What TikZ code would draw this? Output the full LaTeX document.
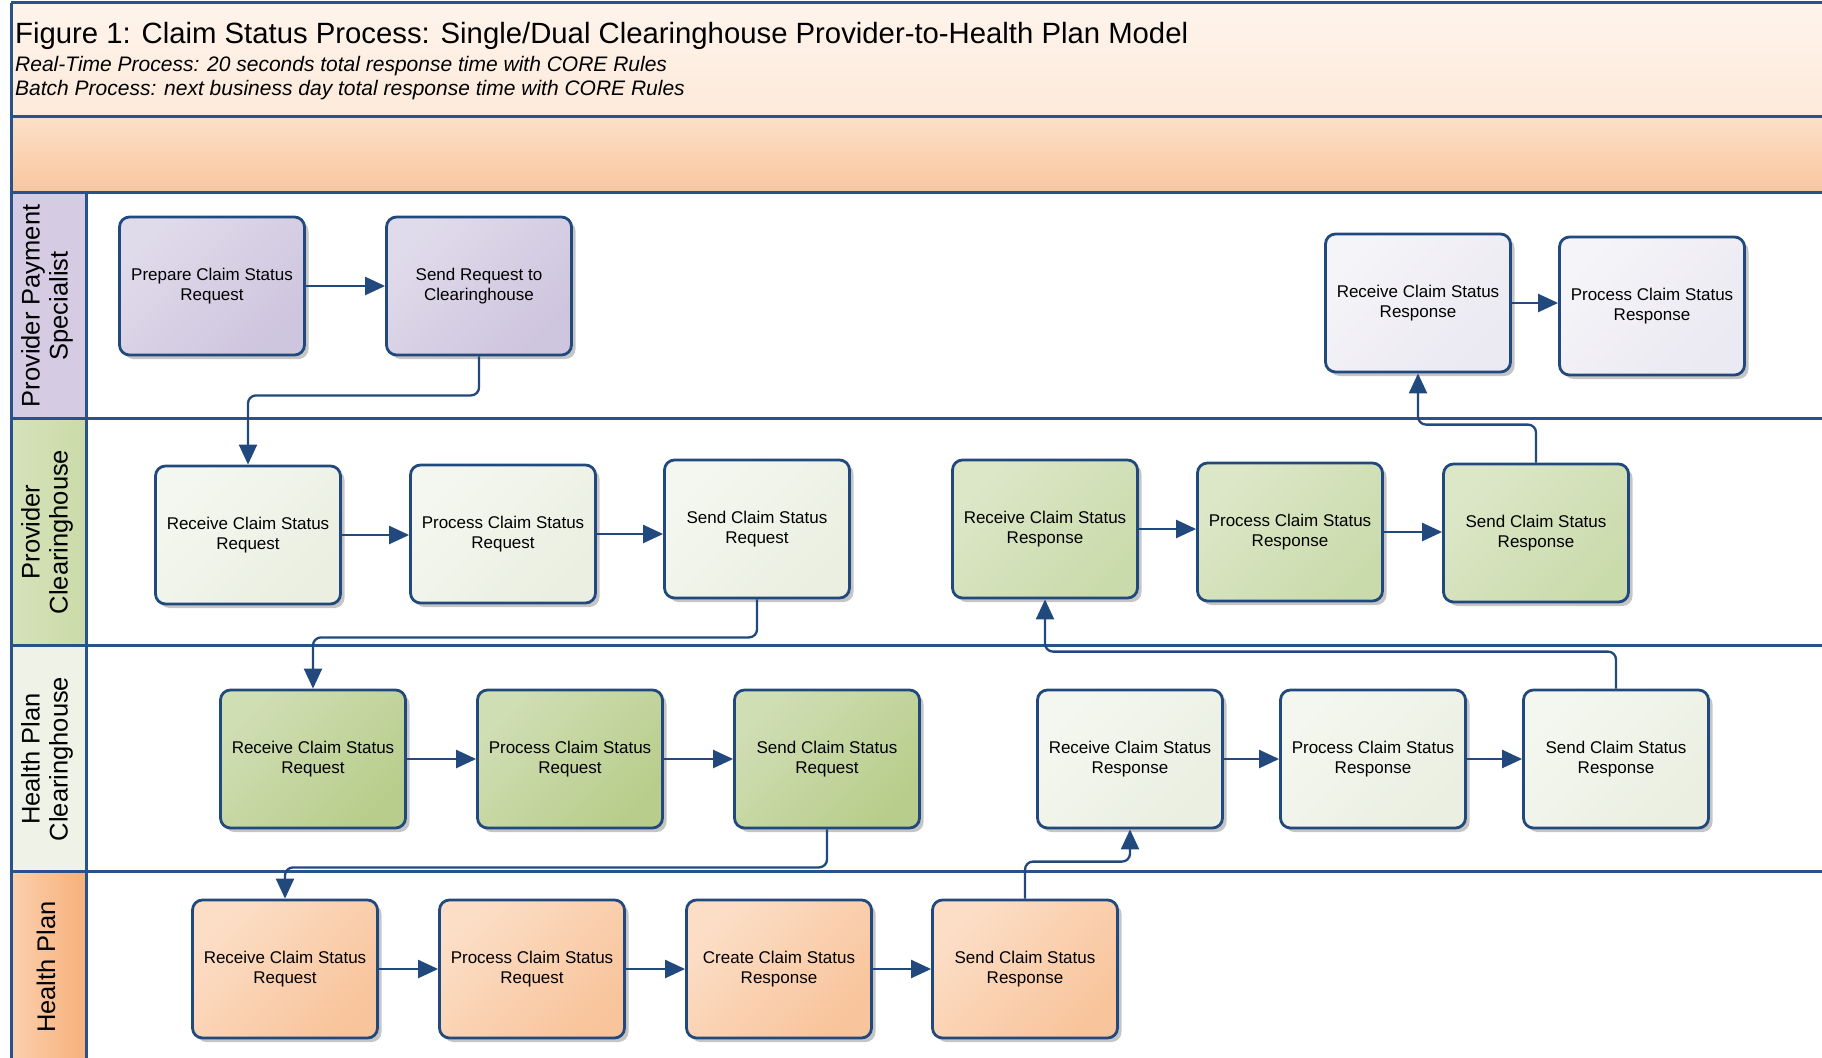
\documentclass[tikz,border=0pt]{standalone}
\usepackage{fontspec}
\setmainfont{Liberation Sans}
\usetikzlibrary{arrows.meta,shadows}
\definecolor{lblue}{HTML}{21497D}
\definecolor{fblue}{HTML}{28538A}
\definecolor{ppsAt}{HTML}{E0DBEB}
\definecolor{ppsAb}{HTML}{CEC5DE}
\definecolor{ppsBt}{HTML}{F5F4F8}
\definecolor{ppsBb}{HTML}{EBE9F1}
\definecolor{pcAt}{HTML}{F4F7EF}
\definecolor{pcAb}{HTML}{EAEFE1}
\definecolor{pcBt}{HTML}{DCE7C8}
\definecolor{pcBb}{HTML}{CADBAB}
\definecolor{hpcAt}{HTML}{D0DEB4}
\definecolor{hpcAb}{HTML}{B8CD8B}
\definecolor{hpAt}{HTML}{FCDEC6}
\definecolor{hpAb}{HTML}{F8C49B}
\definecolor{headT}{HTML}{FEF4EC}
\definecolor{headB}{HTML}{FDEADA}
\definecolor{bandT}{HTML}{FCE0C8}
\definecolor{bandB}{HTML}{F9C69E}
\definecolor{lab1c}{HTML}{D5CCE3}
\definecolor{lab2l}{HTML}{D6E2BA}
\definecolor{lab2r}{HTML}{CBDBA8}
\definecolor{lab3c}{HTML}{EEF2E7}
\definecolor{lab4l}{HTML}{FBD0AE}
\definecolor{lab4r}{HTML}{F7B07A}
\begin{document}
\begin{tikzpicture}[x=1pt,y=-1pt,
  box/.style={rectangle, rounded corners=10pt, draw=lblue, line width=2.8pt,
    minimum width=185pt, minimum height=138pt, align=center, inner sep=2pt,
    font=\fontsize{17}{20}\selectfont,
    drop shadow={shadow xshift=4pt, shadow yshift=-4pt, fill=black!45, opacity=0.5}},
  ppsA/.style={box, top color=ppsAt, bottom color=ppsAb, shading angle=45},
  ppsB/.style={box, top color=ppsBt, bottom color=ppsBb, shading angle=45},
  pcA/.style={box, top color=pcAt, bottom color=pcAb, shading angle=45},
  pcB/.style={box, top color=pcBt, bottom color=pcBb, shading angle=45},
  hpcA/.style={box, top color=hpcAt, bottom color=hpcAb, shading angle=45},
  hpA/.style={box, top color=hpAt, bottom color=hpAb, shading angle=45},
  conn/.style={draw=lblue, line width=2.3pt, rounded corners=8pt, -{Triangle[length=20pt,width=18pt]}},
  frame/.style={draw=fblue, line width=3pt},
  lanelabel/.style={rotate=90, align=center, font=\fontsize{25.5}{28}\selectfont, inner sep=0pt},
]
\useasboundingbox (0,0) rectangle (1822,1057);
% header
\shade[top color=headT, bottom color=headB] (11,3) rectangle (1840,116);
\shade[top color=bandT, bottom color=bandB] (11,116) rectangle (1840,192);
% lane label fills
\fill[lab1c] (11,192) rectangle (86,418);
\shade[left color=lab2l, right color=lab2r] (11,418) rectangle (86,645);
\fill[lab3c] (11,645) rectangle (86,871);
\shade[left color=lab4l, right color=lab4r] (11,871) rectangle (86,1070);
% frame lines
\draw[frame] (11,3) -- (1840,3);
\draw[frame] (11,116) -- (1840,116);
\draw[frame] (11,192) -- (1840,192);
\draw[frame] (11,418) -- (1840,418);
\draw[frame] (11,645) -- (1840,645);
\draw[frame] (11,871) -- (1840,871);
\draw[frame] (11,3) -- (11,1070);
\draw[frame] (86,192) -- (86,1070);
% titles
\node[anchor=base west, inner sep=0pt, font=\fontsize{29.3}{32}\selectfont] (title) at (15,44)
  {Figure 1: Claim Status Process: Single/Dual Clearinghouse Provider-to-Health Plan Model};
\node[anchor=base west, inner sep=0pt, font=\fontsize{21}{24}\selectfont\itshape] (sub1) at (15,71)
  {Real-Time Process: 20 seconds total response time with CORE Rules};
\node[anchor=base west, inner sep=0pt, font=\fontsize{21}{24}\selectfont\itshape] (sub2) at (15,95)
  {Batch Process: next business day total response time with CORE Rules};
% lane labels
\node[lanelabel] (lab1) at (47,306) {Provider Payment\\Specialist};
\node[lanelabel] (lab2) at (47,532) {Provider\\Clearinghouse};
\node[lanelabel] (lab3) at (47,759) {Health Plan\\Clearinghouse};
\node[lanelabel] (lab4) at (46,967) {Health Plan};
% lane 1
\node[ppsA] (prep) at (212,286) {Prepare Claim Status\\Request};
\node[ppsA] (sendreq) at (479,286) {Send Request to\\Clearinghouse};
\node[ppsB] (ppsrecv) at (1418,303) {Receive Claim Status\\Response};
\node[ppsB] (ppsproc) at (1652,306) {Process Claim Status\\Response};
% lane 2
\node[pcA] (pcrecv) at (248,535) {Receive Claim Status\\Request};
\node[pcA] (pcproc) at (503,534) {Process Claim Status\\Request};
\node[pcA] (pcsend) at (757,529) {Send Claim Status\\Request};
\node[pcB] (pcrresp) at (1045,529) {Receive Claim Status\\Response};
\node[pcB] (pcpresp) at (1290,532) {Process Claim Status\\Response};
\node[pcB] (pcsresp) at (1536,533) {Send Claim Status\\Response};
% lane 3
\node[hpcA] (hrecv) at (313,759) {Receive Claim Status\\Request};
\node[hpcA] (hproc) at (570,759) {Process Claim Status\\Request};
\node[hpcA] (hsend) at (827,759) {Send Claim Status\\Request};
\node[pcA] (hrresp) at (1130,759) {Receive Claim Status\\Response};
\node[pcA] (hpresp) at (1373,759) {Process Claim Status\\Response};
\node[pcA] (hsresp) at (1616,759) {Send Claim Status\\Response};
% lane 4
\node[hpA] (prcv) at (285,969) {Receive Claim Status\\Request};
\node[hpA] (pproc) at (532,969) {Process Claim Status\\Request};
\node[hpA] (pcreate) at (779,969) {Create Claim Status\\Response};
\node[hpA] (psend) at (1025,969) {Send Claim Status\\Response};
% connectors
\draw[conn] (prep.east) -- (prep.east -| sendreq.west);
\draw[conn] (ppsrecv.east) -- (ppsrecv.east -| ppsproc.west);
\draw[conn] (pcrecv.east) -- (pcrecv.east -| pcproc.west);
\draw[conn] (pcproc.east) -- (pcproc.east -| pcsend.west);
\draw[conn] (pcrresp.east) -- (pcrresp.east -| pcpresp.west);
\draw[conn] (pcpresp.east) -- (pcpresp.east -| pcsresp.west);
\draw[conn] (hrecv.east) -- (hrecv.east -| hproc.west);
\draw[conn] (hproc.east) -- (hproc.east -| hsend.west);
\draw[conn] (hrresp.east) -- (hrresp.east -| hpresp.west);
\draw[conn] (hpresp.east) -- (hpresp.east -| hsresp.west);
\draw[conn] (prcv.east) -- (prcv.east -| pproc.west);
\draw[conn] (pproc.east) -- (pproc.east -| pcreate.west);
\draw[conn] (pcreate.east) -- (pcreate.east -| psend.west);
\draw[conn] (sendreq.south) -- ++(0,39) -| (pcrecv.north);
\draw[conn] (pcsend.south) -- ++(0,38) -| (hrecv.north);
\draw[conn] (hsend.south) -- ++(0,38) -| (prcv.north);
\draw[conn] (psend.north) -- ++(0,-37) -| (hrresp.south);
\draw[conn] (hsresp.north) -- ++(0,-37) -| (pcrresp.south);
\draw[conn] (pcsresp.north) -- ++(0,-38) -| (ppsrecv.south);
\end{tikzpicture}
\end{document}
